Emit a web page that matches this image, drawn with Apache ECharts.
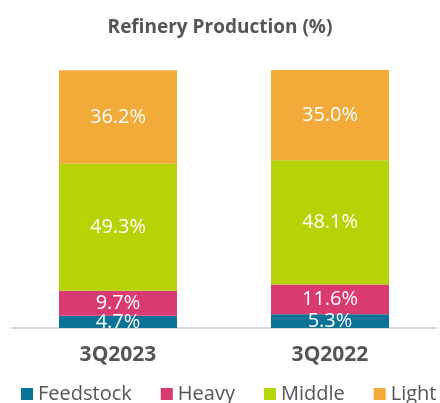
<!DOCTYPE html>
<html>
<head>
<meta charset="utf-8">
<script src="https://cdn.jsdelivr.net/npm/echarts@6/dist/echarts.min.js"></script>
<style>
  html, body { margin: 0; padding: 0; background: #fff; }
  #chart { width: 440px; height: 403px; }
</style>
</head>
<body>
<div id="chart"></div>
<script>
// refinery production shares, per quarter
const categories = ['3Q2023', '3Q2022']
const feedstock = [4.7, 5.3]
const heavy = [9.7, 11.6]
const middle = [49.3, 48.1]
const light = [36.2, 35.0]

const seriesNames = ['Feedstock', 'Heavy', 'Middle', 'Light']
const colors = ['#0b7298', '#d93a72', '#b6d405', '#f2aa38']
const values = [feedstock, heavy, middle, light]

const font = '"Open Sans", Lato, sans-serif'

const chart = echarts.init(document.getElementById('chart'))

const option = {
  animation: false,
  color: colors,
  title: {
    text: 'Refinery Production (%)',
    left: 'center',
    top: 13,
    textStyle: {
      fontFamily: font,
      fontSize: 19,
      fontWeight: 'bold',
      color: '#555'
    }
  },
  legend: {
    top: 379,
    left: 16,
    width: 520,
    icon: 'rect',
    itemWidth: 12,
    itemHeight: 12,
    itemGap: 29,
    data: seriesNames,
    textStyle: {
      fontFamily: font,
      fontSize: 20,
      color: '#555'
    }
  },
  grid: {
    left: 12,
    right: 4,
    top: 70,
    bottom: 75,
    containLabel: false
  },
  xAxis: {
    type: 'category',
    data: categories,
    axisTick: { show: false },
    axisLine: { lineStyle: { color: '#ccc', width: 1.5 } },
    axisLabel: {
      margin: 17,
      fontFamily: font,
      fontSize: 21,
      fontWeight: 'bold',
      color: '#555'
    }
  },
  yAxis: {
    type: 'value',
    min: 0,
    max: 100,
    show: false,
    splitLine: { show: false }
  },
  series: seriesNames.map(function (name, i) {
    return {
      name: name,
      type: 'bar',
      stack: 'total',
      barWidth: 118,
      data: values[i],
      label: {
        show: true,
        position: 'inside',
        formatter: function (p) { return p.value.toFixed(1) + '%' },
        fontFamily: font,
        fontSize: 20,
        color: '#fff'
      }
    }
  })
}

chart.setOption(option)
</script>
</body>
</html>
